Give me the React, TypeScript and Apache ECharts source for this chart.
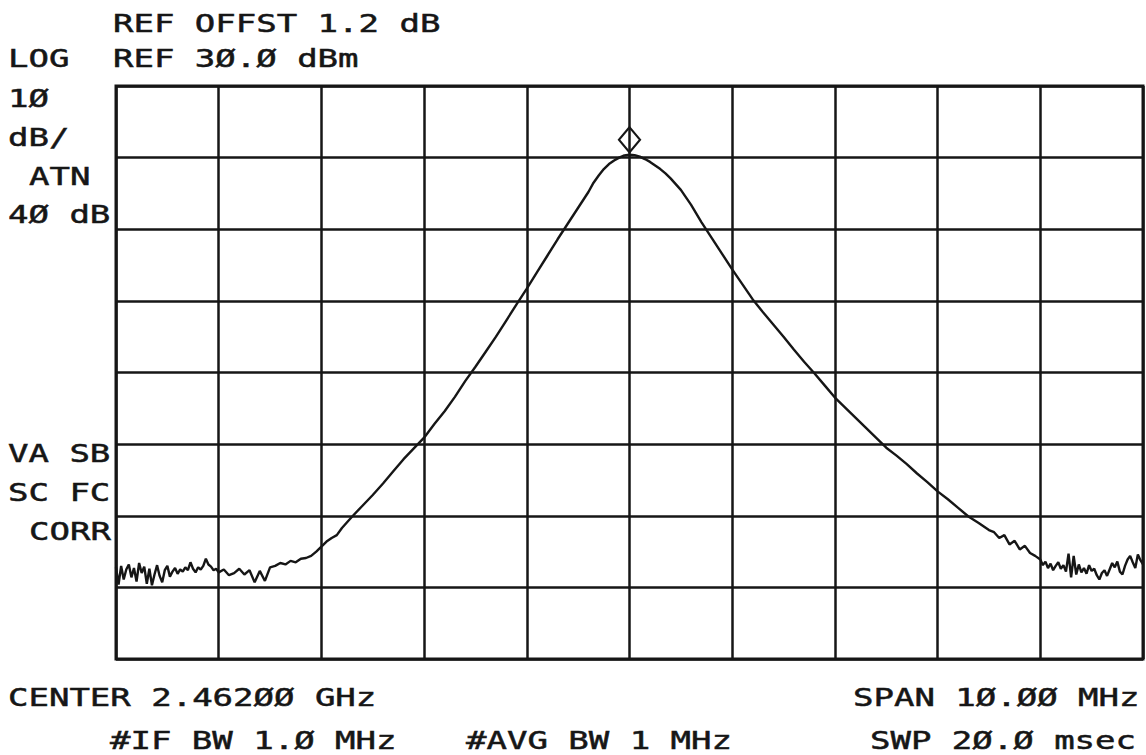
import React, { useEffect, useRef } from "react";
import * as echarts from "echarts";

// Sweep frequencies (MHz) and measured trace level (dBm)
const sweepMHz: number[] = [
  2457.0, 2457.025, 2457.05, 2457.075, 2457.1, 2457.125, 2457.15, 2457.175, 2457.2, 2457.225,
  2457.25, 2457.275, 2457.3, 2457.325, 2457.35, 2457.375, 2457.4, 2457.425, 2457.45, 2457.475,
  2457.5, 2457.525, 2457.55, 2457.575, 2457.6, 2457.625, 2457.65, 2457.675, 2457.7, 2457.725,
  2457.75, 2457.775, 2457.8, 2457.825, 2457.85, 2457.875, 2457.9, 2457.925, 2457.95, 2457.975,
  2458.0,
  2458.05, 2458.1, 2458.15, 2458.2, 2458.25, 2458.3, 2458.35, 2458.4, 2458.45, 2458.5,
  2458.55, 2458.6, 2458.65, 2458.7, 2458.75, 2458.8, 2458.85, 2458.9, 2458.95, 2459.0,
  2459.05, 2459.1, 2459.15, 2459.2, 2459.3, 2459.4, 2459.5, 2459.6, 2459.7, 2459.8, 2459.9,
  2460.0, 2460.1, 2460.2, 2460.3, 2460.4, 2460.5, 2460.6, 2460.7, 2460.8, 2460.9,
  2461.0, 2461.1, 2461.2, 2461.3, 2461.4, 2461.5, 2461.6, 2461.65, 2461.7, 2461.75, 2461.8, 2461.85, 2461.9, 2461.95,
  2462.0,
  2462.05, 2462.1, 2462.15, 2462.2, 2462.25, 2462.3, 2462.35, 2462.4, 2462.45, 2462.5, 2462.6, 2462.7, 2462.8, 2462.9,
  2463.0, 2463.1, 2463.2, 2463.3, 2463.4, 2463.5, 2463.6, 2463.7, 2463.8, 2463.9,
  2464.0, 2464.1, 2464.2, 2464.3, 2464.4, 2464.5, 2464.6, 2464.7, 2464.8, 2464.9,
  2465.0, 2465.1, 2465.2, 2465.3, 2465.4, 2465.5, 2465.55, 2465.6, 2465.65, 2465.7,
  2465.75, 2465.8, 2465.85, 2465.9, 2465.95,
  2466.0, 2466.025, 2466.05, 2466.075, 2466.1, 2466.125, 2466.15, 2466.175, 2466.2, 2466.225,
  2466.25, 2466.275, 2466.3, 2466.325, 2466.35, 2466.375, 2466.4, 2466.425, 2466.45, 2466.475,
  2466.5, 2466.525, 2466.55, 2466.575, 2466.6, 2466.625, 2466.65, 2466.675, 2466.7, 2466.725,
  2466.75, 2466.775, 2466.8, 2466.825, 2466.85, 2466.875, 2466.9, 2466.925, 2466.95, 2466.975,
  2467.0,
];

const levelDbm: number[] = [
  -37.2, -39.6, -37.0, -38.9, -37.5, -36.8, -38.6, -37.3, -39.2, -36.6,
  -38.0, -37.1, -39.5, -37.4, -39.7, -38.2, -36.9, -38.4, -39.3, -37.6,
  -37.0, -38.5, -37.8, -37.3, -38.1, -37.5, -37.8, -37.2, -37.6, -36.5,
  -37.4, -37.9, -37.2, -37.5, -37.0, -36.0, -36.8, -37.1, -37.6, -37.4,
  -37.9,
  -37.5, -38.3, -38.0, -37.4, -38.2, -37.6, -39.3, -37.7, -39.1, -37.2,
  -37.0, -36.6, -36.8, -36.3, -36.5, -36.0, -35.9, -35.6, -35.0, -34.3,
  -33.6, -33.1, -32.7, -31.7, -30.1, -28.6, -27.1, -25.5, -23.8, -22.1, -20.6,
  -19.1, -17.2, -15.4, -13.4, -11.2, -9.2, -7.1, -5.0, -2.75, -0.5,
  1.7, 4.0, 6.3, 8.6, 10.8, 13.0, 15.2, 16.5, 17.5, 18.4, 19.1, 19.6, 20.0, 20.3,
  20.4,
  20.35, 20.15, 19.8, 19.4, 18.9, 18.4, 17.8, 17.1, 16.3, 15.5, 13.4, 11.0, 8.8, 6.6,
  4.4, 2.3, 0.2, -1.6, -3.3, -5.0, -6.8, -8.5, -10.1, -11.8,
  -13.5, -14.9, -16.3, -17.7, -19.1, -20.5, -21.6, -22.8, -24.1, -25.3,
  -26.6, -27.7, -28.9, -30.1, -31.0, -32.0, -32.3, -33.1, -32.7, -34.0,
  -33.5, -34.7, -34.2, -35.2, -35.6,
  -36.1, -36.9, -36.4, -37.3, -36.7, -37.6, -37.0, -36.5, -37.4, -36.9,
  -37.8, -35.3, -38.6, -35.6, -38.2, -36.8, -37.9, -37.3, -38.1, -36.9,
  -37.7, -37.4, -38.3, -38.9, -38.0, -37.6, -38.4, -37.5, -36.6, -37.2,
  -36.4, -37.8, -38.2, -37.0, -36.1, -35.6, -36.5, -37.3, -35.4, -36.2,
  -36.8,
];

// Axis scale: REF 30 dBm, 10 dB/div, 8 divisions; center 2462 MHz, span 10 MHz
const refLevelDbm = 30;
const bottomLevelDbm = -50;
const dbPerDiv = 10;
const startMHz = 2457;
const stopMHz = 2467;
const mhzPerDiv = 1;

// Annotation texts [text, x, y]
const annotations: [string, number, number][] = [
  ["REF OFFST 1.2 dB", 113, 23],
  ["LOG", 8, 58],
  ["REF 3\u00d8.\u00d8 dBm", 113, 58],
  ["1\u00d8", 8, 98],
  ["dB/", 8, 137],
  ["ATN", 29, 176],
  ["4\u00d8 dB", 8, 214],
  ["VA SB", 8, 453],
  ["SC FC", 8, 492],
  ["CORR", 29, 531],
  ["CENTER 2.462\u00d8\u00d8 GHz", 8, 697],
  ["SPAN 1\u00d8.\u00d8\u00d8 MHz", 853, 697],
  ["#IF BW 1.\u00d8 MHz", 110, 740],
  ["#AVG BW 1 MHz", 466, 740],
  ["SWP 2\u00d8.\u00d8 msec", 870, 740],
];

const INK = "#161616";

export default function App() {
  const ref = useRef<HTMLDivElement>(null);

  useEffect(() => {
    if (!ref.current) return;
    const chart = echarts.init(ref.current, undefined, { renderer: "svg" });
    const data = sweepMHz.map((f, i) => [f, levelDbm[i]]);

    const axisCommon = {
      type: "value" as const,
      axisLine: { show: false },
      axisTick: { show: false },
      axisLabel: { show: false },
      splitLine: { show: true, lineStyle: { color: INK, width: 2.5 } },
    };

    chart.setOption({
      animation: false,
      backgroundColor: "#ffffff",
      grid: {
        left: 116,
        top: 86,
        width: 1027,
        height: 573,
        show: true,
        borderColor: INK,
        borderWidth: 3,
        backgroundColor: "transparent",
      },
      xAxis: { ...axisCommon, min: startMHz, max: stopMHz, interval: mhzPerDiv },
      yAxis: { ...axisCommon, min: bottomLevelDbm, max: refLevelDbm, interval: dbPerDiv },
      series: [
        {
          type: "line",
          data,
          showSymbol: false,
          silent: true,
          lineStyle: { color: INK, width: 2.4 },
          markPoint: {
            symbol: "diamond",
            symbolSize: [21, 25],
            symbolOffset: [0, -15],
            silent: true,
            label: { show: false },
            itemStyle: { color: "rgba(0,0,0,0)", borderColor: INK, borderWidth: 2.2 },
            data: [{ type: "max" }],
          },
        },
      ],
      graphic: {
        elements: annotations.map(([text, x, y]) => ({
          type: "text",
          x,
          y,
          scaleX: 1.36,
          silent: true,
          style: {
            text,
            font: '25px "DejaVu Sans Mono"',
            fill: INK,
            stroke: INK,
            lineWidth: 0.5,
            align: "left",
            textAlign: "left",
            verticalAlign: "middle",
            textVerticalAlign: "middle",
          },
        })),
      },
    });

    return () => chart.dispose();
  }, []);

  return (
    <div
      ref={ref}
      style={{ position: "absolute", left: 0, top: 0, width: 1146, height: 755, background: "#fff" }}
    />
  );
}
